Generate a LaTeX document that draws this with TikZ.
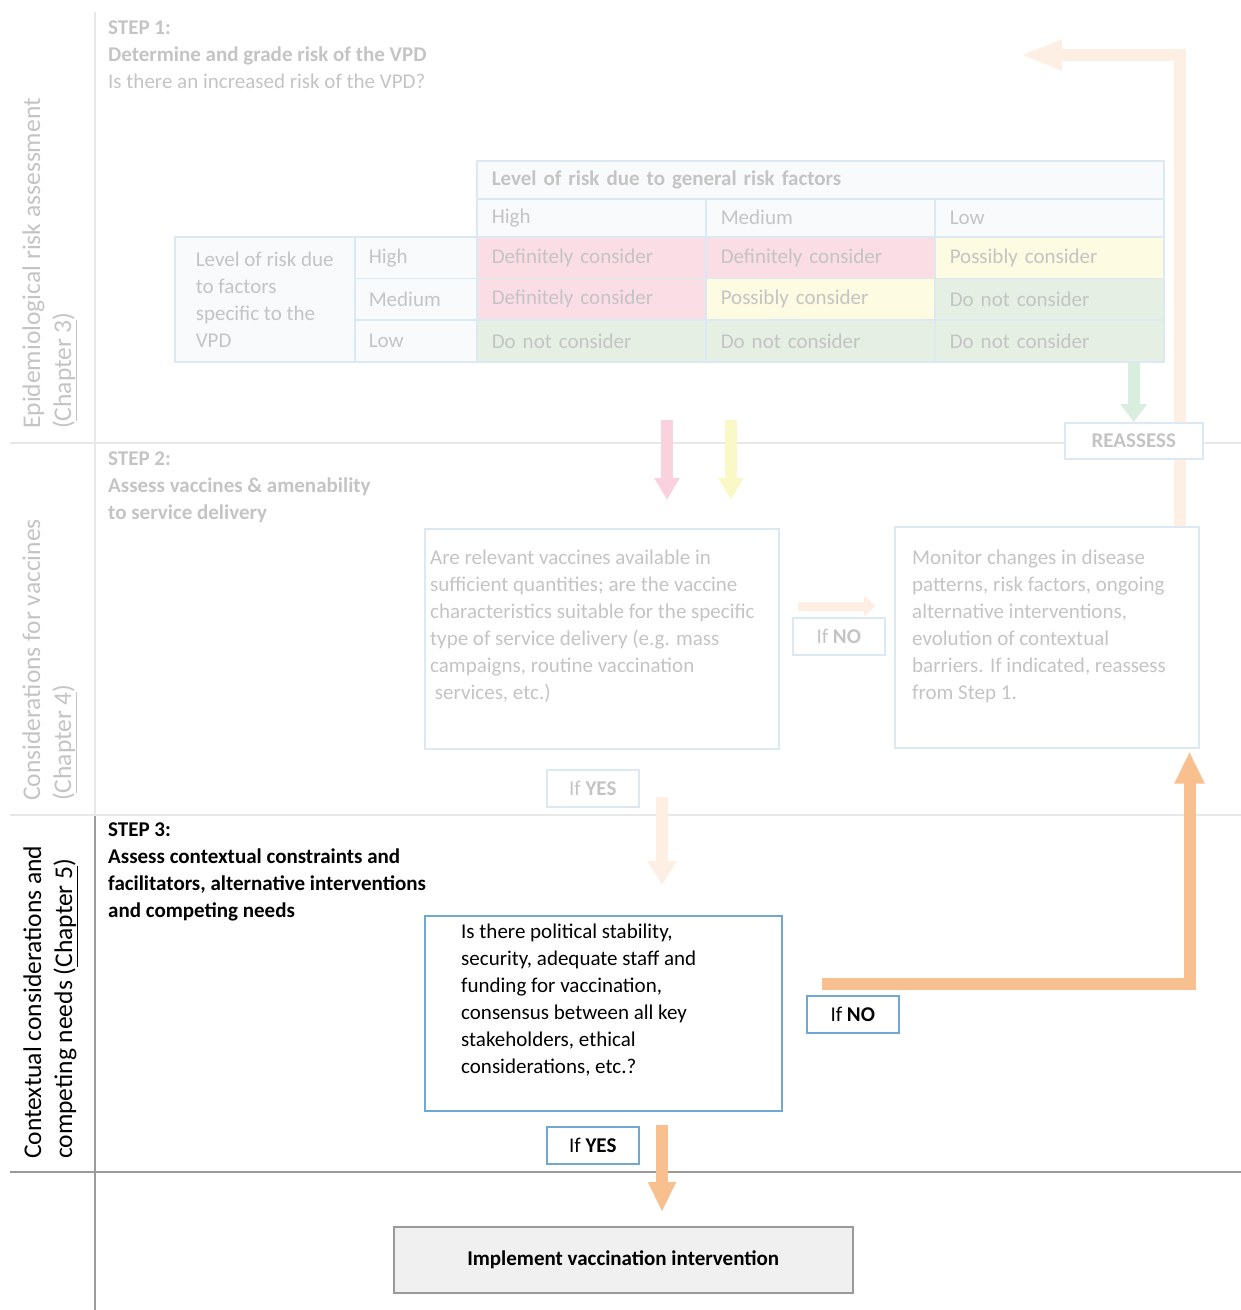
\documentclass[tikz,border=0pt]{standalone}
\usepackage{fontspec}
\setmainfont{Carlito}
\usetikzlibrary{positioning,arrows.meta}

\definecolor{fade}{HTML}{C4C4C4}
\definecolor{tblline}{HTML}{DCE9F3}
\definecolor{tblhead}{HTML}{F8FAFC}
\definecolor{rpink}{HTML}{FBDDE6}
\definecolor{ryellow}{HTML}{FDFBE1}
\definecolor{rgreen}{HTML}{E5EFE3}
\definecolor{apink}{HTML}{F9D2DE}
\definecolor{ayellow}{HTML}{FBF8C8}
\definecolor{agreen}{HTML}{D9EEDF}
\definecolor{lanefade}{HTML}{E8E8E8}
\definecolor{lanedark}{HTML}{9A9A9A}
\definecolor{peach}{HTML}{FEEFE5}
\definecolor{boxorange}{HTML}{F9C08F}
\definecolor{qblue}{HTML}{6FA8D3}
\definecolor{implfill}{HTML}{F0F0F0}

\begin{document}
\begin{tikzpicture}[x=1pt,y=-1pt,font=\fontsize{21}{27}\selectfont,
  lane/.style={rotate=90,anchor=base west,align=left,inner sep=0pt,
    font=\fontsize{25.5}{31}\selectfont},
  steptxt/.style={anchor=north west,align=left,inner sep=0pt},
  body/.style={anchor=north west,align=left,inner sep=0pt},
  cell/.style={draw=tblline,line width=1.5pt,anchor=north west,align=left,
    inner xsep=15pt,inner ysep=0pt,text=fade,minimum height=41.7pt},
  box/.style={draw=tblline,line width=1.5pt,anchor=north west,inner sep=0pt},
  ifbox/.style={draw=tblline,line width=1.5pt,fill=white,anchor=north west,
    minimum width=92pt,minimum height=37pt,inner sep=0pt},
  blk/.style={line width=12pt,-{Triangle[length=24pt,width=28pt]}}]
\useasboundingbox (0,0) rectangle (1241,1310);

% swimlane rules
\draw[lanefade,line width=1.5pt] (95,12) -- (95,815);
\draw[lanedark,line width=1.5pt] (95,815) -- (95,1310);
\draw[lanefade,line width=1.5pt] (10,443) -- (1241,443);
\draw[lanefade,line width=1.5pt] (10,815) -- (1241,815);
\draw[lanedark,line width=1.5pt] (10,1172) -- (1241,1172);

\node[lane,text=fade] (lane1) at (71,429) {Epidemiological risk assessment\\(\underline{Chapter 3})};
\node[lane,text=fade] (lane2) at (71,801) {Considerations for vaccines\\(\underline{Chapter 4})};
\node[lane] (lane3) at (72,1159) {Contextual considerations and\\competing needs (\underline{Chapter 5})};

\node[steptxt,text=fade] (step1) at (108,21) {\textbf{STEP 1:}\\\textbf{Determine and grade risk of the VPD}\\Is there an increased risk of the VPD?};
\node[steptxt,text=fade] (step2) at (108,452) {\textbf{STEP 2:}\\\textbf{Assess vaccines \& amenability}\\\textbf{to service delivery}};
\node[steptxt] (step3) at (108,823) {\textbf{STEP 3:}\\\textbf{Assess contextual constraints and}\\\textbf{facilitators, alternative interventions}\\\textbf{and competing needs}};

% risk matrix
\node[cell,fill=tblhead,text width=657pt,minimum height=38pt] (hd) at (476,160) {\textbf{Level of risk due to general risk factors}};
\foreach \t [count=\c from 0] in {High,Medium,Low}
  \node[cell,fill=tblhead,text width=199pt,minimum height=38pt] (ch\c) at ({476+229*\c},198) {\t};
\node[cell,fill=tblhead,minimum width=180pt,minimum height=125.1pt] (rowhd) at (174,236) {Level of risk due\\to factors\\specific to the\\VPD};
\foreach \t [count=\r from 0] in {High,Medium,Low}
  \node[cell,fill=tblhead,text width=94pt,inner xsep=14pt] (rh\r) at (354,{236+41.7*\r}) {\t};
\foreach \c/\r/\t/\f in {0/0/Definitely consider/rpink,1/0/Definitely consider/rpink,
    2/0/Possibly consider/ryellow,0/1/Definitely consider/rpink,1/1/Possibly consider/ryellow,
    2/1/Do not consider/rgreen,0/2/Do not consider/rgreen,1/2/Do not consider/rgreen,
    2/2/Do not consider/rgreen}
  \node[cell,fill=\f,text width=199pt] (g\c\r) at ({476+229*\c},{236+41.7*\r}) {\t};

% question boxes
\node[box,minimum width=354pt,minimum height=220pt] (q2) at (424,528) {};
\node[body,text=fade] (q2t) at (430,550) {Are relevant vaccines available in\\sufficient quantities; are the vaccine\\characteristics suitable for the specific\\type of service delivery (e.g. mass\\campaigns, routine vaccination\\\ services, etc.)};
\node[box,minimum width=304pt,minimum height=221pt] (mon) at (894,526) {};
\node[body,text=fade] (mont) at (912,550) {Monitor changes in disease\\patterns, risk factors, ongoing\\alternative interventions,\\evolution of contextual\\barriers. If indicated, reassess\\from Step 1.};
\node[box,draw=qblue,minimum width=357pt,minimum height=195pt] (q3) at (424,915) {};
\node[body] (q3t) at (461,924) {Is there political stability,\\security, adequate staff and\\funding for vaccination,\\consensus between all key\\stakeholders, ethical\\considerations, etc.?};
\node[box,draw=lanedark,fill=implfill,minimum width=459pt,minimum height=66pt] (impl) at (393,1226) {\textbf{Implement vaccination intervention}};

% back to step 1
\coordinate (back) at (1020,55);
\draw[blk,peach,-{Triangle[length=42pt,width=28pt]}] ([xshift=-20pt]mon.north east) |- (back);
\node[ifbox,minimum width=138pt,minimum height=36pt,text=fade] (rs) at (1064,422) {\textbf{REASSESS}};
\draw[blk,agreen,-{Triangle[length=18pt,width=26pt]}] (g22.south -| rs.north) -- (rs.north);

% from matrix to step 2
\coordinate (pk) at (667,420);
\coordinate (yl) at (731,420);
\draw[blk,apink,-{Triangle[length=22pt,width=24pt]}] (pk) -- (pk |- q2.north) [shorten >=28pt];
\draw[blk,ayellow,-{Triangle[length=22pt,width=24pt]}] (yl) -- (yl |- q2.north) [shorten >=28pt];

% step 2 outcomes
\node[ifbox,text=fade] (no2) at (792,617) {If \textbf{NO}};
\coordinate (n2a) at (798,606);
\draw[peach,line width=9pt,-{Triangle[length=12pt,width=20pt]}] (n2a) -- (n2a -| mon.west) [shorten >=18pt];
\node[ifbox,text=fade] (yes2) at (546,769) {If \textbf{YES}};
\coordinate (y2a) at (662,797);
\draw[blk,peach] (y2a) -- (y2a |- q3.north) [shorten >=30pt];

% step 3 outcomes
\node[ifbox,draw=qblue] (no3) at (806,995) {If \textbf{NO}};
\coordinate (n3a) at (822,984);
\draw[blk,boxorange,-{Triangle[length=32pt,width=28pt]}] (n3a) -| ([xshift=-10pt]mon.south east) [shorten >=3pt];
\node[ifbox,draw=qblue] (yes3) at (546,1126) {If \textbf{YES}};
\coordinate (y3a) at (662,1125);
\draw[blk,boxorange,-{Triangle[length=30pt,width=26pt]}] (y3a) -- (y3a |- impl.north) [shorten >=14pt];
\end{tikzpicture}
\end{document}
